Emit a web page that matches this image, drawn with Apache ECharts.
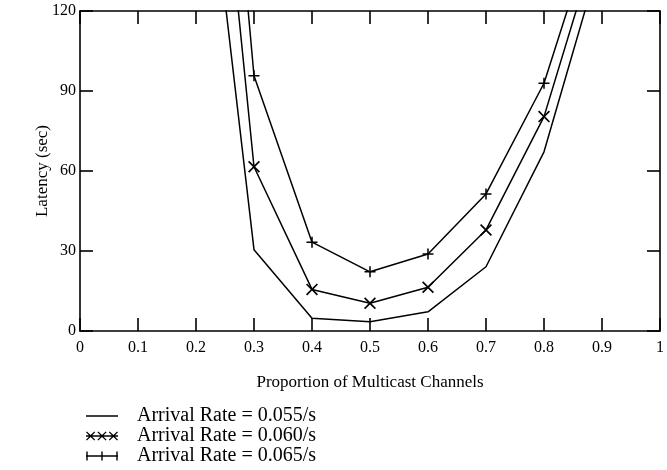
<!DOCTYPE html>
<html>
<head>
<meta charset="utf-8">
<script src="https://cdn.jsdelivr.net/npm/echarts@6/dist/echarts.min.js"></script>
<style>html,body{margin:0;padding:0;background:#fff}#c{width:667px;height:470px}</style>
</head>
<body>
<div id="c"></div>
<script>
var proportions = [0.2, 0.3, 0.4, 0.5, 0.6, 0.7, 0.8, 0.9];
var rate055 = [217, 30.5, 4.8, 3.5, 7.2, 24.1, 67.2, 142];
var rate060 = [278, 61.6, 15.6, 10.4, 16.4, 37.9, 80.4, 152];
var rate065 = [338, 95.7, 33.3, 22.2, 28.9, 51.4, 92.9, 161];
var seriesNames = ['Arrival Rate = 0.055/s', 'Arrival Rate = 0.060/s', 'Arrival Rate = 0.065/s'];
var xTitle = 'Proportion of Multicast Channels';
var yTitle = 'Latency (sec)';

var FONT = '"Liberation Serif", "DejaVu Serif", serif';
var X_MARK = 'path://M0,1L1,0L5,4L9,0L10,1L6,5L10,9L9,10L5,6L1,10L0,9L4,5Z';
var P_MARK = 'path://M4.3,0H5.7V4.3H10V5.7H5.7V10H4.3V5.7H0V4.3H4.3Z';

function xs(cx){ // small X glyph for legend icon (box 32 x 10)
  var s=4.6, t=0.9;
  return 'M'+(cx-s)+','+(5-s+t)+'L'+(cx-s+t)+','+(5-s)+'L'+cx+','+(5-t)+'L'+(cx+s-t)+','+(5-s)+'L'+(cx+s)+','+(5-s+t)+
    'L'+(cx+t)+',5L'+(cx+s)+','+(5+s-t)+'L'+(cx+s-t)+','+(5+s)+'L'+cx+','+(5+t)+'L'+(cx-s+t)+','+(5+s)+'L'+(cx-s)+','+(5+s-t)+'L'+(cx-t)+',5Z';
}
function ps(cx){
  var t=0.7;
  return 'M'+(cx-t)+',0.4H'+(cx+t)+'V9.6H'+(cx-t)+'Z';
}
var BOX = 'M0,0H0.01V0.01H0ZM0,10H0.01V10.01H0Z';
var LINE_PATH = 'M0,4.2H32V5.8H0Z';
var ICON_LINE = 'path://' + BOX + LINE_PATH;
var ICON_X = 'path://' + BOX + LINE_PATH + xs(4.6) + xs(16) + xs(27.4);
var ICON_P = 'path://' + BOX + LINE_PATH + ps(1) + ps(16) + ps(31);

function pairs(ys){ return proportions.map(function(x,i){ return [x, ys[i]]; }); }

function axisCommon(){
  return {
    type: 'value',
    axisLine: { show: true, onZero: false, lineStyle: { color: '#000', width: 1.6 } },
    axisTick: { show: true, inside: true, length: 13, lineStyle: { color: '#000', width: 1.6 } },
    splitLine: { show: false }
  };
}

var chart = echarts.init(document.getElementById('c'));
chart.setOption({
  animation: false,
  backgroundColor: '#fff',
  grid: { left: 80, right: 5, top: 11, bottom: 139 },
  xAxis: [
    Object.assign(axisCommon(), {
      min: 0, max: 1, interval: 0.1, position: 'bottom',
      name: xTitle, nameLocation: 'middle', nameGap: 43, nameMoveOverlap: false,
      nameTextStyle: { fontFamily: FONT, fontSize: 17, color: '#000' },
      axisLabel: { fontFamily: FONT, fontSize: 16, color: '#000', margin: 9 }
    }),
    Object.assign(axisCommon(), {
      min: 0, max: 1, interval: 0.1, position: 'top', axisLabel: { show: false }
    })
  ],
  yAxis: [
    Object.assign(axisCommon(), {
      min: 0, max: 120, interval: 30, position: 'left',
      name: yTitle, nameLocation: 'middle', nameGap: 29, nameRotate: 90, nameMoveOverlap: false,
      nameTextStyle: { fontFamily: FONT, fontSize: 17, color: '#000' },
      axisLabel: { fontFamily: FONT, fontSize: 16, color: '#000', margin: 4 }
    }),
    Object.assign(axisCommon(), {
      min: 0, max: 120, interval: 30, position: 'right', axisLabel: { show: false }
    })
  ],
  legend: {
    orient: 'vertical', left: 86, top: 406, height: 64, padding: 0, itemGap: 0,
    itemWidth: 32, itemHeight: 11,
    textStyle: { fontFamily: FONT, fontSize: 20, color: '#000', lineHeight: 20, padding: [0, 0, 0, 14] },
    data: [
      { name: seriesNames[0], icon: ICON_LINE },
      { name: seriesNames[1], icon: ICON_X },
      { name: seriesNames[2], icon: ICON_P }
    ]
  },
  series: [
    { name: seriesNames[0], type: 'line', data: pairs(rate055), symbol: 'none', clip: true,
      color: '#000', lineStyle: { color: '#000', width: 1.5 } },
    { name: seriesNames[1], type: 'line', data: pairs(rate060), symbol: X_MARK, symbolSize: 12, clip: true,
      color: '#000', itemStyle: { color: '#000' }, lineStyle: { color: '#000', width: 1.5 } },
    { name: seriesNames[2], type: 'line', data: pairs(rate065), symbol: P_MARK, symbolSize: 11, clip: true,
      color: '#000', itemStyle: { color: '#000' }, lineStyle: { color: '#000', width: 1.5 } }
  ]
});
</script>
</body>
</html>
